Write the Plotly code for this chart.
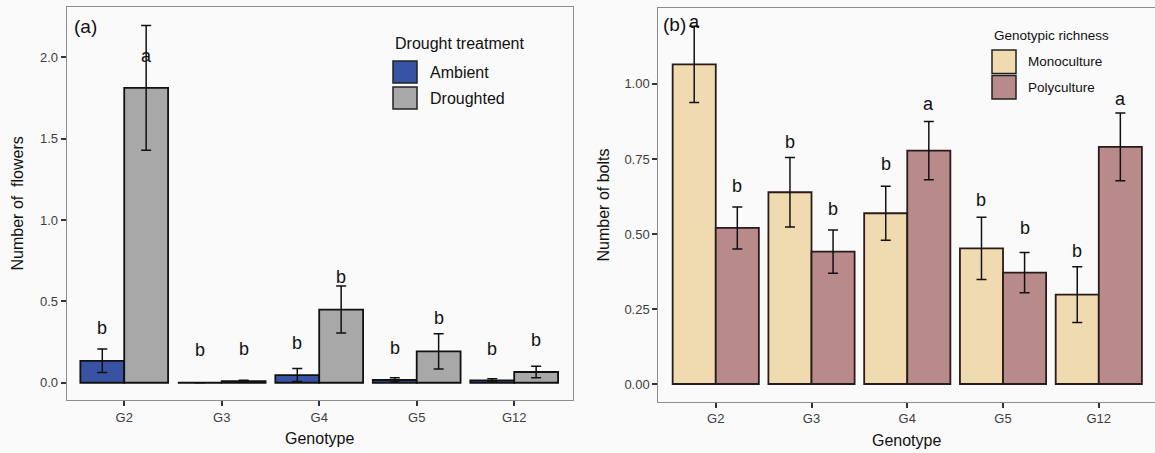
import plotly.graph_objects as go

# ---------------- data ----------------
genotypes = ["G2", "G3", "G4", "G5", "G12"]

# Panel (a): number of flowers
flowers_ambient = [0.135, 0.0, 0.047, 0.017, 0.015]
flowers_ambient_se = [0.072, 0.0, 0.040, 0.013, 0.010]
flowers_drought = [1.812, 0.010, 0.450, 0.193, 0.066]
flowers_drought_se = [0.383, 0.005, 0.144, 0.108, 0.036]
letters_a_ambient = ["b", "b", "b", "b", "b"]
letters_a_drought = ["a", "b", "b", "b", "b"]
letters_a_ambient_y = [0.335, 0.200, 0.245, 0.215, 0.210]
letters_a_drought_y = [2.010, 0.210, 0.650, 0.395, 0.260]

# Panel (b): number of bolts
bolts_mono = [1.065, 0.639, 0.569, 0.452, 0.298]
bolts_mono_se = [0.127, 0.116, 0.090, 0.104, 0.093]
bolts_poly = [0.520, 0.441, 0.778, 0.371, 0.790]
bolts_poly_se = [0.070, 0.072, 0.097, 0.067, 0.113]
letters_b_mono = ["a", "b", "b", "b", "b"]
letters_b_poly = ["b", "b", "a", "b", "a"]
letters_b_mono_y = [1.207, 0.807, 0.732, 0.613, 0.444]
letters_b_poly_y = [0.660, 0.582, 0.932, 0.519, 0.951]

# ---------------- style ----------------
W, H = 1155, 453
FONT = "Liberation Sans, Arial, sans-serif"
C_AMB = "#3853a4"
C_DRO = "#a8a8a8"
C_MONO = "#f0dbb0"
C_POLY = "#b88a8a"
BG = "#fafafa"
TICKC = "#3d3d3d"

fig = go.Figure()

def err(se):
    return dict(type="data", array=se, visible=True, color="#111111",
                thickness=1.5, width=5)

fig.add_trace(go.Bar(x=genotypes, y=flowers_ambient, name="Ambient",
                     marker=dict(color=C_AMB, line=dict(color="#111111", width=1.8)),
                     error_y=err(flowers_ambient_se), xaxis="x", yaxis="y",
                     offsetgroup="a1", showlegend=False))
fig.add_trace(go.Bar(x=genotypes, y=flowers_drought, name="Droughted",
                     marker=dict(color=C_DRO, line=dict(color="#111111", width=1.8)),
                     error_y=err(flowers_drought_se), xaxis="x", yaxis="y",
                     offsetgroup="a2", showlegend=False))
fig.add_trace(go.Bar(x=genotypes, y=bolts_mono, name="Monoculture",
                     marker=dict(color=C_MONO, line=dict(color="#2a1a1a", width=1.8)),
                     error_y=err(bolts_mono_se), xaxis="x2", yaxis="y2",
                     offsetgroup="b1", showlegend=False))
fig.add_trace(go.Bar(x=genotypes, y=bolts_poly, name="Polyculture",
                     marker=dict(color=C_POLY, line=dict(color="#2a1a1a", width=1.8)),
                     error_y=err(bolts_poly_se), xaxis="x2", yaxis="y2",
                     offsetgroup="b2", showlegend=False))

annotations = []
shapes = []

def letter(xref, yref, xpos, ypos, txt):
    annotations.append(dict(xref=xref, yref=yref, x=xpos, y=ypos, text=txt,
                            showarrow=False, font=dict(size=18, color="#111111", family=FONT),
                            xanchor="center", yanchor="middle"))

for i in range(len(genotypes)):
    letter("x", "y", i - 0.225, letters_a_ambient_y[i], letters_a_ambient[i])
    letter("x", "y", i + 0.225, letters_a_drought_y[i], letters_a_drought[i])
    letter("x2", "y2", i - 0.225, letters_b_mono_y[i], letters_b_mono[i])
    letter("x2", "y2", i + 0.225, letters_b_poly_y[i], letters_b_poly[i])

def px(xp):
    return xp / W

def py(yp):
    return 1 - yp / H

# panel labels
annotations.append(dict(xref="paper", yref="paper", x=px(72), y=py(27), text="(a)",
                        showarrow=False, xanchor="left", yanchor="middle",
                        font=dict(size=19, color="#111111", family=FONT)))
annotations.append(dict(xref="paper", yref="paper", x=px(661), y=py(25), text="(b)",
                        showarrow=False, xanchor="left", yanchor="middle",
                        font=dict(size=19, color="#111111", family=FONT)))

# manual legends (ggplot-style keys)
def legend_block(x0, title, title_y, items, key_w, key_h, tx, fs):
    annotations.append(dict(xref="paper", yref="paper", x=px(x0), y=py(title_y), text=title,
                            showarrow=False, xanchor="left", yanchor="middle",
                            font=dict(size=fs, color="#111111", family=FONT)))
    for (label, color, y0) in items:
        shapes.append(dict(type="rect", xref="paper", yref="paper",
                           x0=px(x0), x1=px(x0 + key_w), y0=py(y0), y1=py(y0 + key_h),
                           fillcolor=color, line=dict(color="#222222", width=1.5)))
        annotations.append(dict(xref="paper", yref="paper", x=px(tx), y=py(y0 + key_h / 2),
                                text=label, showarrow=False, xanchor="left", yanchor="middle",
                                font=dict(size=fs, color="#111111", family=FONT)))

legend_block(393, "Drought treatment", 43,
             [("Ambient", C_AMB, 61), ("Droughted", C_DRO, 87)], 24, 22, 428, 16)
legend_block(992, "Genotypic richness", 36,
             [("Monoculture", C_MONO, 50), ("Polyculture", C_POLY, 75.5)], 24, 23.5, 1026, 13.5)

axis_common = dict(showline=True, linecolor="#8c8c8c", linewidth=1, mirror=True,
                   ticks="outside", ticklen=5, tickwidth=1.5, tickcolor="#333333",
                   showgrid=False, zeroline=False,
                   tickfont=dict(size=13, color=TICKC, family=FONT))

fig.update_layout(
    width=W, height=H,
    margin=dict(l=0, r=0, t=0, b=0),
    paper_bgcolor=BG, plot_bgcolor=BG,
    barmode="group", bargap=0.1, bargroupgap=0,
    font=dict(family=FONT),
    xaxis=dict(domain=[66.7 / W, 572.7 / W], anchor="y", type="category",
               categoryarray=genotypes, range=[-0.59, 4.6],
               title=dict(text="Genotype", font=dict(size=16, color="#111111"), standoff=9),
               **axis_common),
    yaxis=dict(domain=[1 - 400 / H, 1 - 6.7 / H], anchor="x", range=[-0.106, 2.311],
               tickvals=[0, 0.5, 1.0, 1.5, 2.0], ticktext=["0.0", "0.5", "1.0", "1.5", "2.0"],
               title=dict(text="Number of\u00a0 flowers", font=dict(size=16, color="#111111"), standoff=12),
               **axis_common),
    xaxis2=dict(domain=[658.3 / W, 1.0], anchor="y2", type="category",
                categoryarray=genotypes, range=[-0.6, 4.587],
                title=dict(text="Genotype", font=dict(size=16, color="#111111"), standoff=9),
                **axis_common),
    yaxis2=dict(domain=[1 - 401.7 / H, 1 - 8.3 / H], anchor="x2", range=[-0.059, 1.252],
                tickvals=[0, 0.25, 0.5, 0.75, 1.0],
                ticktext=["0.00", "0.25", "0.50", "0.75", "1.00"],
                title=dict(text="Number of bolts", font=dict(size=16, color="#111111"), standoff=10),
                **axis_common),
    annotations=annotations,
    shapes=shapes,
)

fig.write_html("out.html")
